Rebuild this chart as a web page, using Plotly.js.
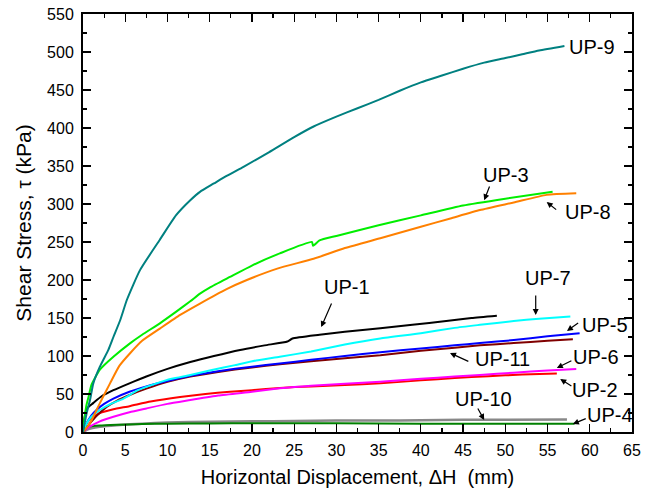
<!DOCTYPE html>
<html>
<head>
<meta charset="utf-8">
<script src="https://cdn.plot.ly/plotly-3.0.1.min.js"></script>
<style>html,body{margin:0;padding:0;background:#fff;}#chart{width:664px;height:496px;}</style>
</head>
<body>
<div id="chart"></div>
<script>
// Horizontal displacement (mm) and shear stress (kPa) for each test
var up9_x = [0,0.2,0.44,0.83,1.22,2,3,3.6,4.4,5.2,6.75,9.1,11,12.7,13.85,15.5,17,19,22,25,27.3,30,32.5,35,37.5,40,42.5,45,47.5,50,52,54,57];
var up9_y = [0,12,25,42,64,86,108,125,147,174,213,253,285,305,316,327,337,349,368,388,402,415,426,437,449,460,469,478,486,492,497,502,508];

var up3_x = [0,0.15,0.4,0.63,1,2,3.6,5.6,7,9.1,11,12.7,13.85,15,17.4,20,23.3,27.1,27.25,28,30,35,40,45,50,55.6];
var up3_y = [0,15,35,45,62,82,99,117,128,143,158,172,182,190,204,219,235,250,245,252,258,272,285,298,307,316];

var up8_x = [0,0.8,2,3.2,4.3,5.6,7,9.1,11.5,13.85,17,19.4,23,27.3,31,35.2,40,43.5,47,51,54.9,58.4];
var up8_y = [0,11,38,64,87,104,120,136,154,169,188,200,215,228,242,255,270,281,292,302,312,314];

var up1_x = [0,0.2,0.45,1.2,2.2,3.6,5.5,7.5,10,12.7,15.5,18.6,21.5,24.2,24.8,28,31,35.2,39,43,46,49];
var up1_y = [0,20,31,38,47,55,64,73,83,92,100,108,114,119,123,128,132,136.5,141,146,150,153];

var up7_x = [0,0.4,1,2,3.3,4.8,6.5,8.7,10.5,12.7,15,18,20.5,23.3,27,31,35.2,40,44,47,51,54,57.7];
var up7_y = [0,11,20,29,37,44,55,64,70,75,81,88,94,99,106,115,123,130,137,141,146,149,152];

var up5_x = [0,0.4,1,1.6,2.5,3.6,5.5,7.5,10,12.7,16,20,23.3,27,31,35.2,40,44,47,51,55,58.8];
var up5_y = [0,11,22,29,37,44,53,60,67,74,80,86,90,95,100,105,110,114,117,121,126,130];

var up11_x = [0,0.8,1.5,2.8,4,5.6,7.5,10,12.7,16,20,23.3,27,31,35.2,40,44,47,51,55,58];
var up11_y = [0,11,20,33,41,49,57,66,73,79,85,89,93,97,101,107,111,114,117,120,122];

var up6_x = [0,0.8,2,3.6,5.5,7.5,10,12.7,16,20,23.3,27,31,35.2,40,44,47,51,55,58.4];
var up6_y = [0,7,14,20,26,31,37,42,48,53,57.5,61,63.5,66,70,73,75,78,81,83];

var up2_x = [0,0.4,1,2,3.6,5.5,8,11.5,14.5,17.4,20,23.3,27,31,35.2,40,44,48,52,56.1];
var up2_y = [0,11,18,25,30,34,40,46,50,53,55,58,60,62,64,68,71,73.5,75.5,77];

var up10_x = [0,0.5,1,2,4,7,10,15,20,25,30,35,40,45,50,57.3];
var up10_y = [0,3,5,7,9,11,12.5,13.5,14,14.5,15,15,15.5,16,16.2,16.6];

var up4_x = [0,0.3,0.8,2,4,7,10,15,20,30,40,50,58.2];
var up4_y = [0,4,7,8.5,9.5,10.5,11,11.3,11.5,11.5,11,10.8,10.8];

// Label texts and positions (data units): text centre, arrow tail, arrow head
var label_text = ["UP-9","UP-3","UP-8","UP-1","UP-7","UP-5","UP-11","UP-6","UP-2","UP-10","UP-4"];
var label_tx = [60.3,50.1,59.8,31.3,55.1,61.8,49.7,60.7,60.6,47.4,62.4];
var label_ty = [506.6,338,289.5,190.8,202.6,140.8,96,98.7,55.3,43.4,22.4];
var arrow_ax = [null,48.2,56.2,29.5,53.6,58.8,45.8,58.0,58.0,46.65,59.7];
var arrow_ay = [null,325,291,171,181.6,144.7,92,94.7,59.2,32.9,18.4];
var arrow_hx = [null,47.5,54.9,28.2,53.6,57.3,43.45,56.1,56.5,47.5,58.0];
var arrow_hy = [null,305,302.6,138,154,132.9,104,84.2,69.7,15.8,10.5];

var series = [
  {x: up10_x, y: up10_y, color: '#888888', w: 2.5},
  {x: up4_x, y: up4_y, color: '#008000', w: 2},
  {x: up2_x, y: up2_y, color: '#ff0000', w: 2},
  {x: up6_x, y: up6_y, color: '#ff00ff', w: 2},
  {x: up11_x, y: up11_y, color: '#800000', w: 2},
  {x: up5_x, y: up5_y, color: '#0000ff', w: 2},
  {x: up7_x, y: up7_y, color: '#00ffff', w: 2},
  {x: up1_x, y: up1_y, color: '#000000', w: 2},
  {x: up8_x, y: up8_y, color: '#ff8000', w: 2},
  {x: up3_x, y: up3_y, color: '#00ee00', w: 2},
  {x: up9_x, y: up9_y, color: '#008080', w: 2}
];

var traces = series.map(function(s){
  return {x: s.x, y: s.y, type: 'scatter', mode: 'lines',
          line: {color: s.color, width: s.w, shape: 'spline', smoothing: 0.5},
          showlegend: false, hoverinfo: 'skip'};
});

var FONT = 'Liberation Sans, Arial, Helvetica, sans-serif';
var annotations = [];
for (var i = 0; i < label_text.length; i++) {
  annotations.push({x: label_tx[i], y: label_ty[i], xref: 'x', yref: 'y', text: label_text[i],
    showarrow: false, font: {family: FONT, size: 20, color: '#000'}});
  if (arrow_ax[i] !== null) {
    annotations.push({x: arrow_hx[i], y: arrow_hy[i], xref: 'x', yref: 'y', text: '',
      showarrow: true, axref: 'x', ayref: 'y', ax: arrow_ax[i], ay: arrow_ay[i],
      arrowhead: 2, arrowsize: 1, arrowwidth: 1.2, arrowcolor: '#000', standoff: 0});
  }
}

var axisCommon = {
  showgrid: false, zeroline: false, showline: true, linecolor: '#000', linewidth: 2,
  mirror: 'ticks', ticks: 'inside', ticklen: 8, tickwidth: 1.2, tickcolor: '#000',
  tickfont: {family: FONT, size: 16, color: '#000'}
};

var layout = {
  width: 664, height: 496,
  margin: {l: 83, r: 32, t: 14, b: 64},
  paper_bgcolor: '#fff', plot_bgcolor: '#fff',
  xaxis: Object.assign({}, axisCommon, {
    range: [0, 65], dtick: 5, tick0: 0, ticklabelstandoff: 3,
    minor: {dtick: 2.5, ticks: 'inside', ticklen: 4, tickcolor: '#000', tickwidth: 1.2},
    title: {text: 'Horizontal Displacement, \u0394H\u00a0 (mm)', standoff: 12,
            font: {family: FONT, size: 20, color: '#000'}}
  }),
  yaxis: Object.assign({}, axisCommon, {
    range: [0, 550], dtick: 50, tick0: 0, ticklabelstandoff: 4,
    minor: {dtick: 25, ticks: 'inside', ticklen: 4, tickcolor: '#000', tickwidth: 1.2},
    title: {text: 'Shear Stress, \u03c4 (kPa)', standoff: 10,
            font: {family: FONT, size: 21, color: '#000'}}
  }),
  annotations: annotations
};

Plotly.newPlot('chart', traces, layout, {displayModeBar: false, staticPlot: true});
</script>
</body>
</html>
